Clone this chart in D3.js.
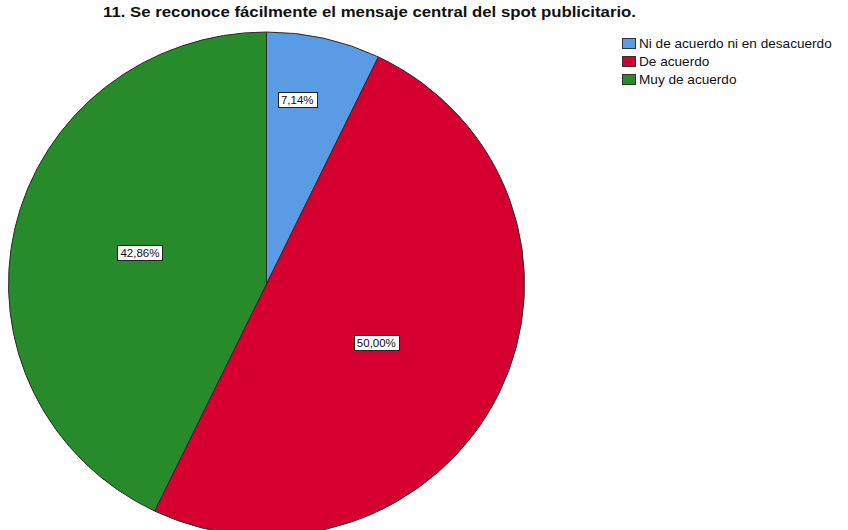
<!DOCTYPE html>
<html>
<head>
<meta charset="utf-8">
<script src="https://cdn.jsdelivr.net/npm/d3@7/dist/d3.min.js"></script>
<style>
  html, body { margin: 0; padding: 0; background: #ffffff; }
  svg { display: block; }
</style>
</head>
<body>
<svg id="chart" width="848" height="530"></svg>
<script>
// ---- data ----
const title = "11. Se reconoce fácilmente el mensaje central del spot publicitario.";
const categories = ["Ni de acuerdo ni en desacuerdo", "De acuerdo", "Muy de acuerdo"];
const values = [7.14, 50.00, 42.86];
const labels = ["7,14%", "50,00%", "42,86%"];
const colors = ["#5a9be6", "#d5002f", "#278a2b"];

// ---- layout ----
const W = 848, H = 530;
const cx = 266.5, cy = 284, rx = 258, ry = 252;
const svg = d3.select("#chart");

svg.append("rect").attr("width", W).attr("height", H).attr("fill", "#fff");

svg.append("text")
  .attr("x", 103).attr("y", 17)
  .attr("font-family", "Arial, 'Liberation Sans', sans-serif")
  .attr("font-weight", "bold")
  .attr("font-size", 15)
  .attr("fill", "#111")
  .attr("textLength", 533)
  .attr("lengthAdjust", "spacingAndGlyphs")
  .text(title);

const pie = d3.pie().sort(null).value(d => d)(values);
const arc = d3.arc().innerRadius(0).outerRadius(ry);

const g = svg.append("g")
  .attr("transform", `translate(${cx},${cy}) scale(${rx / ry},1)`);

g.selectAll("path").data(pie).join("path")
  .attr("d", arc)
  .attr("fill", (d, i) => colors[i])
  .attr("stroke", "#2b2b2b")
  .attr("stroke-width", 1)
  .attr("vector-effect", "non-scaling-stroke");

// label placement (angle nudge in degrees, radial fraction) per slice
const labelLayout = [[-3.6, 0.74], [2.9, 0.485], [1.4, 0.506]];
const lg = svg.append("g");
pie.forEach((d, i) => {
  const mid = (d.startAngle + d.endAngle) / 2 + labelLayout[i][0] * Math.PI / 180;
  const f = labelLayout[i][1];
  const x = cx + rx * f * Math.sin(mid);
  const y = cy - ry * f * Math.cos(mid);
  const t = lg.append("text")
    .attr("x", x).attr("y", y + 4)
    .attr("text-anchor", "middle")
    .attr("font-family", "Arial, 'Liberation Sans', sans-serif")
    .attr("font-size", 11.5)
    .attr("fill", "#111")
    .text(labels[i]);
  const bb = t.node().getBBox();
  lg.insert("rect", () => t.node())
    .attr("x", Math.round(bb.x - 3) + 0.5)
    .attr("y", Math.round(y - 7.5) + 0.5)
    .attr("width", Math.round(bb.width + 6))
    .attr("height", 15)
    .attr("fill", "#fff")
    .attr("stroke", "#222")
    .attr("stroke-width", 1);
});

// legend
const leg = svg.append("g").attr("transform", "translate(622,38)");
categories.forEach((c, i) => {
  const row = leg.append("g").attr("transform", `translate(0,${i * 18})`);
  row.append("rect")
    .attr("x", 0.5).attr("y", 0.5).attr("width", 13).attr("height", 10)
    .attr("fill", colors[i]).attr("stroke", "#333").attr("stroke-width", 1);
  row.append("text")
    .attr("x", 17).attr("y", 10)
    .attr("font-family", "Arial, 'Liberation Sans', sans-serif")
    .attr("font-size", 13.6)
    .attr("fill", "#111")
    .text(c);
});
</script>
</body>
</html>
